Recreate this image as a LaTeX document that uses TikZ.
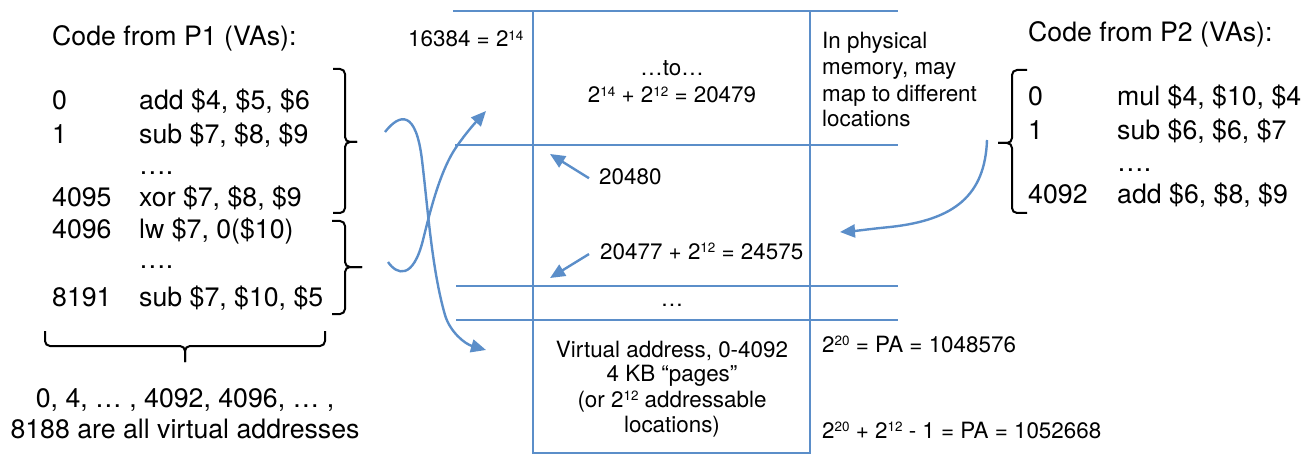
\documentclass[tikz,border=0pt]{standalone}
\usepackage{fontspec}
\setmainfont{TeX Gyre Heros}
\usepackage{graphicx}
\usetikzlibrary{arrows.meta}
\definecolor{lineblue}{RGB}{91,142,201}
\newcommand\supx[1]{\raisebox{0.3em}{\scalebox{0.6}{#1}}}
\newcommand\bigf{\fontsize{26.7}{32}\selectfont}
\newcommand\smallf{\fontsize{22.4}{27}\selectfont}
\begin{document}
\begin{tikzpicture}[x=1pt,y=-1pt,
  big/.style={inner sep=0pt, anchor=base west, font=\bigf},
  bigc/.style={inner sep=0pt, anchor=base, font=\bigf},
  sm/.style={inner sep=0pt, anchor=base west, font=\smallf},
  smc/.style={inner sep=0pt, anchor=base, font=\smallf},
  grid/.style={draw=lineblue, line width=2pt},
  bracestyle/.style={draw=black, line width=2pt, rounded corners=5pt},
  flow/.style={draw=lineblue, line width=2.4pt, -{Triangle[length=15pt,width=13pt]}},
]
\useasboundingbox (0,0) rectangle (1313,454);

% ---------- memory grid ----------
\draw[grid] (453,11) -- (898,11);
\draw[grid] (455,145) -- (898,145);
\draw[grid] (456,286) -- (898,286);
\draw[grid] (456,320) -- (898,320);
\draw[grid] (533,11) -- (533,453) -- (810,453) -- (810,11);

% ---------- P1 code ----------
\node[big] (t1) at (52,46) {Code from P1 (VAs):};
\node[big] (p1n0) at (52,110) {0};
\node[big] (p1i0) at (139,110) {add \$4, \$5, \$6};
\node[big] (p1n1) at (52,144) {1};
\node[big] (p1i1) at (139,144) {sub \$7, \$8, \$9};
\node[big] (p1d1) at (139,175) {….};
\node[big] (p1n2) at (52,207) {4095};
\node[big] (p1i2) at (139,207) {xor \$7, \$8, \$9};
\node[big] (p1n3) at (52,239) {4096};
\node[big] (p1i3) at (139,239) {lw \$7, 0(\$10)};
\node[big] (p1d2) at (139,269) {….};
\node[big] (p1n4) at (52,306) {8191};
\node[big] (p1i4) at (139,306) {sub \$7, \$10, \$5};
\node[bigc] (va1) at (185,407) {0, 4, … , 4092, 4096, … ,};
\node[bigc] (va2) at (185,438) {8188 are all virtual addresses};

% braces P1
\draw[bracestyle] (333,69) -- (345,69) -- (345,142) -- (357,142);
\draw[bracestyle] (357,142) -- (345,142) -- (345,213) -- (333,213);
\draw[bracestyle] (332,221) -- (345,221) -- (345,267) -- (362,267);
\draw[bracestyle] (362,267) -- (345,267) -- (345,314) -- (332,314);
\draw[bracestyle] (45,331) -- (45,346) -- (185,346) -- (185,362);
\draw[bracestyle] (185,362) -- (185,346) -- (325,346) -- (325,331);

% ---------- middle labels ----------
\node[sm] (l16384) at (408,47) {16384 = 2\supx{14}};
\node[smc] (lto) at (672,76) {…to…};
\node[smc] (l20479) at (672,103) {2\supx{14} + 2\supx{12} = 20479};
\node[sm] (l20480) at (599,185) {20480};
\node[sm] (l24575) at (600,259) {20477 + 2\supx{12} = 24575};
\node[smc] (ldots) at (672,306) {…};
\node[smc] (v1) at (672,357) {Virtual address, 0-4092};
\node[smc] (v2) at (672,381) {4 KB “pages”};
\node[smc] (v3) at (672,407) {(or 2\supx{12} addressable};
\node[smc] (v4) at (672,432) {locations)};
\node[sm] (ph1) at (822,49) {In physical};
\node[sm] (ph2) at (822,75) {memory, may};
\node[sm] (ph3) at (822,102) {map to different};
\node[sm] (ph4) at (822,127) {locations};
\node[sm] (pa1) at (822,352) {2\supx{20} = PA = 1048576};
\node[sm] (pa2) at (822,438) {2\supx{20} + 2\supx{12} - 1 = PA = 1052668};

% ---------- P2 code ----------
\node[big] (t2) at (1028,42) {Code from P2 (VAs):};
\node[big] (p2n0) at (1028,106) {0};
\node[big] (p2i0) at (1117,106) {mul \$4, \$10, \$4};
\node[big] (p2n1) at (1028,140) {1};
\node[big] (p2i1) at (1117,140) {sub \$6, \$6, \$7};
\node[big] (p2d1) at (1117,172) {….};
\node[big] (p2n2) at (1028,204) {4092};
\node[big] (p2i2) at (1117,204) {add \$6, \$8, \$9};
\draw[bracestyle] (1027,70) -- (1012,70) -- (1012,143) -- (998,143);
\draw[bracestyle] (998,143) -- (1012,143) -- (1012,213) -- (1027,213);

% ---------- arrows ----------
\coordinate (a1s) at (385,132);
\coordinate (a1e) at (486,350);
\coordinate (a2s) at (388,262);
\coordinate (a2e) at (486,111);
\coordinate (a3s) at (987,140);
\coordinate (a3e) at (840,232);
\coordinate (a4e) at (550,154);
\coordinate (a5e) at (550,278);
\draw[flow] (a1s) .. controls (400,113) and (416,110) .. (422,160)
  .. controls (428,210) and (432,270) .. (445,315)
  .. controls (450,332) and (465,344) .. (a1e);
\draw[flow] (a2s) .. controls (397,275) and (413,280) .. (423,240)
  .. controls (430,212) and (440,170) .. (457,146)
  .. controls (466,133) and (475,123) .. (a2e);
\draw[flow] (a3s) .. controls (985,195) and (955,220) .. (890,227)
  .. controls (870,229) and (855,231) .. (a3e);
\draw[flow] ([xshift=-10pt,yshift=-1pt]l20480.west) -- (a4e);
\draw[flow] ([xshift=-11pt,yshift=-3pt]l24575.west) -- (a5e);
\end{tikzpicture}
\end{document}
